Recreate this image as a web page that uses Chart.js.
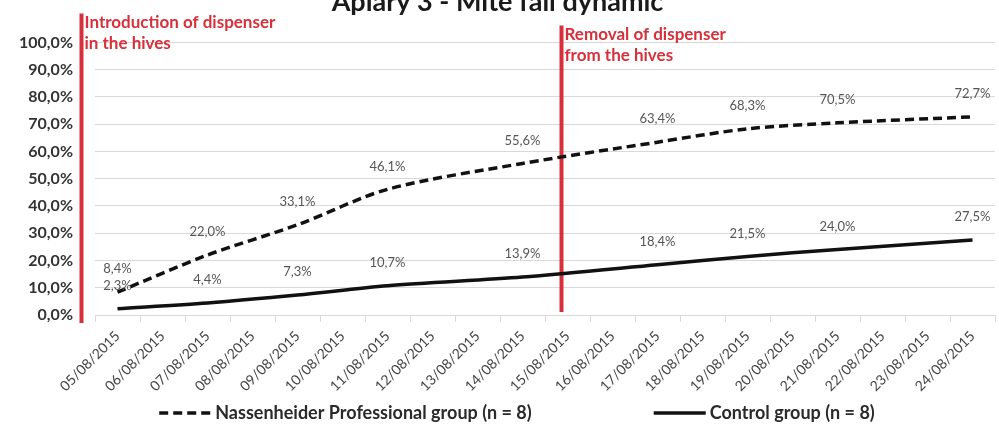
<!DOCTYPE html>
<html>
<head>
<meta charset="utf-8">
<title>Apiary 3 - Mite fall dynamic</title>
<script src="https://cdn.jsdelivr.net/npm/chart.js@4.4.1/dist/chart.umd.min.js"></script>
<style>
  html, body { margin: 0; padding: 0; background: #fff; }
  #wrap { width: 999px; height: 432px; position: relative; }
</style>
</head>
<body>
<div id="wrap"><canvas id="canvas"></canvas></div>
<script>
// days of the trial
var days = ['05/08/2015', '06/08/2015', '07/08/2015', '08/08/2015', '09/08/2015',
  '10/08/2015', '11/08/2015', '12/08/2015', '13/08/2015', '14/08/2015',
  '15/08/2015', '16/08/2015', '17/08/2015', '18/08/2015', '19/08/2015',
  '20/08/2015', '21/08/2015', '22/08/2015', '23/08/2015', '24/08/2015'];

// cumulative mite fall in % (null = no count that day)
var nassenheider = [8.4, null, 22.0, null, 33.1, null, 46.1, null, null, 55.6,
  null, null, 63.4, null, 68.3, null, 70.5, null, null, 72.7];
var control = [2.3, null, 4.4, null, 7.3, null, 10.7, null, null, 13.9,
  null, null, 18.4, null, 21.5, null, 24.0, null, null, 27.5];

var seriesNames = ['Nassenheider Professional group (n = 8)', 'Control group (n = 8)'];

// dispenser put in / taken out
var eventDays = ['05/08/2015', '15/08/2015'];
var eventText = [['Introduction of dispenser', 'in the hives'], ['Removal of dispenser', 'from the hives']];

var RED = '#d7303a';

function pct(v) {
  return v.toFixed(1).replace('.', ',') + '%';
}

// red vertical markers with their captions
var eventLines = {
  id: 'eventLines',
  beforeDatasetsDraw: function (chart, args, opts) {
    var ctx = chart.ctx, xs = chart.scales.x, area = chart.chartArea;
    ctx.save();
    eventDays.forEach(function (d, i) {
      var o = opts.items[i];
      var px = xs.getPixelForValue(days.indexOf(d)) + o.dx;
      var top = area.top + o.top, bottom = area.bottom + o.bottom;
      ctx.strokeStyle = RED;
      ctx.lineWidth = 4;
      ctx.beginPath();
      ctx.moveTo(px, top);
      ctx.lineTo(px, bottom);
      ctx.stroke();
      ctx.fillStyle = RED;
      ctx.font = 'bold 17px Lato';
      ctx.textBaseline = 'middle';
      ctx.textAlign = 'left';
      eventText[i].forEach(function (t, k) {
        ctx.fillText(t, px + 3, top + 9 + k * 21);
      });
    });
    ctx.restore();
  }
};

// value labels above every counted point
var valueLabels = {
  id: 'valueLabels',
  afterDatasetsDraw: function (chart) {
    var ctx = chart.ctx;
    ctx.save();
    ctx.font = '13px Lato';
    ctx.fillStyle = '#555';
    ctx.textAlign = 'center';
    ctx.textBaseline = 'middle';
    chart.data.datasets.forEach(function (ds, i) {
      chart.getDatasetMeta(i).data.forEach(function (pt, j) {
        var v = ds.data[j];
        if (v === null) return;
        ctx.fillText(pct(v), pt.x, pt.y - 23);
      });
    });
    ctx.restore();
  }
};

// legend with line samples at the bottom
var lineLegend = {
  id: 'lineLegend',
  afterDraw: function (chart, args, opts) {
    var ctx = chart.ctx;
    ctx.save();
    ctx.font = opts.font;
    ctx.textBaseline = 'middle';
    var sets = chart.data.datasets;
    var widths = sets.map(function (ds) {
      return opts.sample + opts.gap + ctx.measureText(ds.label).width;
    });
    var total = widths.reduce(function (a, b) { return a + b; }, 0) + opts.spacing * (sets.length - 1);
    var x = opts.center - total / 2;
    var y = chart.height - opts.bottom;
    sets.forEach(function (ds, i) {
      ctx.strokeStyle = ds.borderColor;
      ctx.lineWidth = ds.borderWidth;
      ctx.setLineDash(ds.borderDash || []);
      ctx.beginPath();
      ctx.moveTo(x, y);
      ctx.lineTo(x + opts.sample, y);
      ctx.stroke();
      ctx.setLineDash([]);
      ctx.fillStyle = '#2a2a2a';
      ctx.fillText(ds.label, x + opts.sample + opts.gap, y);
      x += widths[i] + opts.spacing;
    });
    ctx.restore();
  }
};

window.onload = function () {
  var ctx = document.getElementById('canvas').getContext('2d');
  window.myLine = new Chart(ctx, {
    type: 'line',
    data: {
      labels: days,
      datasets: [{
        label: seriesNames[0],
        data: nassenheider,
        borderColor: '#111',
        borderWidth: 3.5,
        borderDash: [9, 5],
        pointRadius: 0,
        tension: 0.3,
        spanGaps: true,
        fill: false
      }, {
        label: seriesNames[1],
        data: control,
        borderColor: '#111',
        borderWidth: 3.5,
        pointRadius: 0,
        tension: 0.3,
        spanGaps: true,
        fill: false
      }]
    },
    options: {
      responsive: true,
      maintainAspectRatio: false,
      animation: false,
      layout: { padding: { left: 0, right: 4, top: 0, bottom: 40 } },
      plugins: {
        legend: { display: false },
        tooltip: { enabled: false },
        title: {
          display: true,
          text: 'Apiary 3 - Mite fall dynamic',
          color: '#1a1a1a',
          font: { family: 'Lato', size: 27, weight: 'bold' },
          padding: { top: -14, bottom: 24 }
        },
        eventLines: {
          items: [{ dx: -36, top: -29, bottom: 8 }, { dx: -6, top: -17, bottom: -3 }]
        },
        lineLegend: { font: 'bold 18px Lato', sample: 52, gap: 4, spacing: 122, center: 517, bottom: 19 }
      },
      scales: {
        x: {
          offset: true,
          afterFit: function (scale) { scale.height = 77; },
          grid: { offset: true, drawOnChartArea: false, drawTicks: true, tickLength: 7, color: '#d9d9d9' },
          border: { color: '#d9d9d9' },
          ticks: {
            autoSkip: false, minRotation: 45, maxRotation: 45, padding: 6,
            color: '#444', font: { family: 'Lato', size: 14 }
          }
        },
        y: {
          min: 0,
          max: 100,
          afterFit: function (scale) { scale.width = 95; },
          grid: { color: '#d9d9d9', drawTicks: false },
          border: { display: false },
          ticks: {
            stepSize: 10, padding: 22, color: '#333',
            font: { family: 'Lato', size: 16, weight: 'bold' },
            callback: function (v) { return pct(v); }
          }
        }
      }
    },
    plugins: [eventLines, valueLabels, lineLegend]
  });
};
</script>
</body>
</html>
